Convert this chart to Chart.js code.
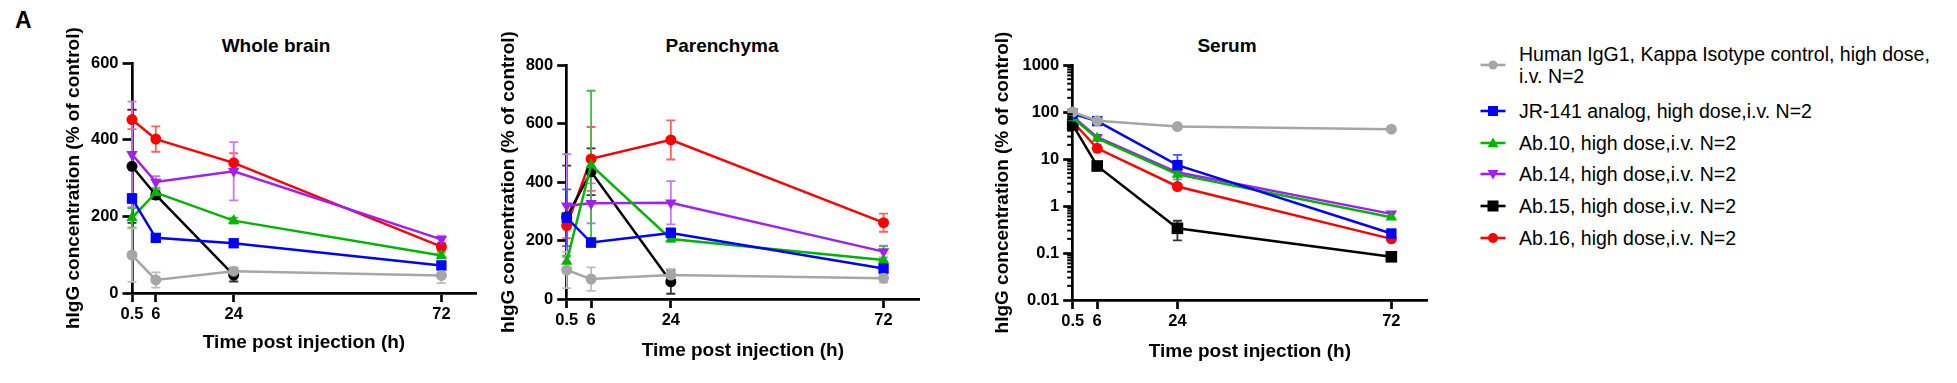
<!DOCTYPE html>
<html>
<head>
<meta charset="utf-8">
<script src="https://cdn.jsdelivr.net/npm/chart.js@4.4.1/dist/chart.umd.min.js"></script>
<style>
  html, body { margin:0; padding:0; background:#fff; }
  body { width:1957px; height:383px; position:relative; overflow:hidden; font-family:'Liberation Sans', Arial, sans-serif; }
  canvas { position:absolute; top:0; }
  .ptitle { position:absolute; font-weight:bold; font-size:19px; line-height:22px; transform:translateX(-50%); white-space:nowrap; color:#000; }
  #panelA { position:absolute; left:15px; top:9px; font-weight:bold; font-size:23px; line-height:23px; }
  .leg { position:absolute; left:1478px; font-size:19.5px; line-height:22px; color:#000; }
  .leg svg { position:absolute; left:0; }
  .leg .txt { position:absolute; left:41px; width:430px; }
</style>
</head>
<body>
<div id="panelA">A</div>
<div class="ptitle" style="left:276px; top:35px;">Whole brain</div>
<div class="ptitle" style="left:722px; top:35px;">Parenchyma</div>
<div class="ptitle" style="left:1227px; top:35px;">Serum</div>
<canvas id="c1" width="490" height="383" style="left:0px"></canvas>
<canvas id="c2" width="440" height="383" style="left:490px"></canvas>
<canvas id="c3" width="510" height="383" style="left:930px"></canvas>
<div id="legend"></div>
<script>
// ---------------- DATA ----------------
const times = [0.5, 6, 24, 72];
const xTickLabels = ['0.5', '6', '24', '72'];
const seriesNames = [
  'Human IgG1, Kappa Isotype control, high dose, i.v. N=2',
  'JR-141 analog, high dose,i.v. N=2',
  'Ab.10, high dose,i.v. N=2',
  'Ab.14, high dose,i.v. N=2',
  'Ab.15, high dose,i.v. N=2',
  'Ab.16, high dose,i.v. N=2'
];
const seriesColors = ['#A6A6A6', '#0000FF', '#00B400', '#A020F0', '#000000', '#FF0000'];
const errorColors  = ['#BDBDBD', '#5050FF', '#40C040', '#C878F0', '#333333', '#FF6060'];

// Whole brain (% of control)
const brainIsotype = [99, 34, 57, 46];
const brainJR141   = [247, 144, 130, 72];
const brainAb10    = [196, 262, 189, 98];
const brainAb14    = [362, 290, 318, 140];
const brainAb15    = [331, 256, 47, null];
const brainAb16    = [453, 402, 340, 121];
const brainIsotypeSD = [70, 20, 10, 20];
const brainJR141SD   = [12, 8, 8, 10];
const brainAb10SD    = [25, 10, 8, 8];
const brainAb14SD    = [138, 15, 76, 10];
const brainAb15SD    = [148, 10, 17, null];
const brainAb16SD    = [25, 33, 25, 10];
const brainTicks = [0, 200, 400, 600];

// Parenchyma (% of control)
const parIsotype = [99, 68, 82, 71];
const parJR141   = [278, 193, 226, 104];
const parAb10    = [128, 458, 205, 133];
const parAb14    = [319, 327, 329, 162];
const parAb15    = [281, 435, 59, null];
const parAb16    = [251, 479, 544, 261];
const parIsotypeSD = [62, 40, 20, 15];
const parJR141SD   = [97, 15, 15, 15];
const parAb10SD    = [20, 254, 10, 48];
const parAb14SD    = [176, 68, 74, 20];
const parAb15SD    = [175, 80, 41, null];
const parAb16SD    = [43, 109, 67, 31];
const parTicks = [0, 200, 400, 600, 800];

// Serum (% of control, log scale)
const serIsotype = [100, 65, 49, 43];
const serJR141   = [92, 64, 7.4, 0.26];
const serAb10    = [75, 27.5, 4.7, 0.575];
const serAb14    = [80, 29, 5.2, 0.68];
const serAb15    = [53, 7.1, 0.335, 0.083];
const serAb16    = [62, 16.9, 2.6, 0.2];
const serIsotypeSD = [null, null, null, null];
const serJR141SD   = [null, null, 4.8, null];
const serAb10SD    = [null, null, 1.0, null];
const serAb14SD    = [null, null, null, null];
const serAb15SD    = [null, null, 0.15, null];
const serAb16SD    = [null, null, null, null];
const serTicks = [0.01, 0.1, 1, 10, 100, 1000];
const serTickLabels = ['0.01', '0.1', '1', '10', '100', '1000'];

// ---------------- STYLE ----------------
Chart.defaults.font.family = "'Liberation Sans', Arial, sans-serif";
Chart.defaults.color = '#000';
const AXW = 2.7;
const tickFont = { size: 16.5, weight: 'bold' };
const titleFont = { size: 19, weight: 'bold' };

function markerStyle(i, panel) {
  if (i === 0) return ['circle', 5.5, 0];
  if (i === 1) return ['rect', 7.3, 0];
  if (i === 2) return ['triangle', 6.6, 0];
  if (i === 3) return ['triangle', 6.6, 180];
  if (i === 4) return panel === 3 ? ['rect', 8.2, 0] : ['circle', 5.5, 0];
  return ['circle', 5.5, 0];
}

function buildDatasets(vals, sds, panel) {
  return vals.map((arr, i) => {
    const [ps, r, rot] = markerStyle(i, panel);
    return {
      label: seriesNames[i],
      data: times.map((t, k) => ({ x: t, y: arr[k] })),
      errors: sds[i],
      errColor: errorColors[i],
      borderColor: seriesColors[i],
      backgroundColor: seriesColors[i],
      pointBackgroundColor: seriesColors[i],
      pointBorderColor: seriesColors[i],
      pointBorderWidth: 0,
      pointStyle: ps,
      pointRadius: r,
      pointRotation: rot,
      borderWidth: 2.5,
      tension: 0,
      spanGaps: false,
      clip: false
    };
  });
}

const errorBarPlugin = {
  id: 'errbars',
  beforeDatasetsDraw(chart) {
    const ctx = chart.ctx;
    const xs = chart.scales.x, ys = chart.scales.y;
    ctx.save();
    for (let i = chart.data.datasets.length - 1; i >= 0; i--) {
      const ds = chart.data.datasets[i];
      if (!ds.errors) continue;
      ctx.strokeStyle = ds.errColor;
      ctx.lineWidth = 1.8;
      ds.data.forEach((p, k) => {
        const e = ds.errors[k];
        if (p.y == null || e == null) return;
        const x = xs.getPixelForValue(p.x);
        const lo = Math.max(p.y - e, ys.min);
        const yTop = ys.getPixelForValue(p.y + e);
        const yBot = ys.getPixelForValue(lo);
        ctx.beginPath();
        ctx.moveTo(x, yTop); ctx.lineTo(x, yBot);
        ctx.moveTo(x - 4.5, yTop); ctx.lineTo(x + 4.5, yTop);
        if (p.y - e > ys.min) { ctx.moveTo(x - 4.5, yBot); ctx.lineTo(x + 4.5, yBot); }
        ctx.stroke();
      });
    }
    ctx.restore();
  }
};

const minorTickPlugin = {
  id: 'minorticks',
  afterDraw(chart) {
    const ys = chart.scales.y;
    if (ys.type !== 'logarithmic') return;
    const ctx = chart.ctx;
    const x0 = chart.chartArea.left;
    ctx.save();
    ctx.strokeStyle = '#000';
    ctx.lineWidth = 2;
    for (let d = -2; d <= 2; d++) {
      for (let k = 2; k <= 9; k++) {
        const y = ys.getPixelForValue(k * Math.pow(10, d));
        ctx.beginPath();
        ctx.moveTo(x0 - 5.5, y); ctx.lineTo(x0, y);
        ctx.stroke();
      }
    }
    ctx.restore();
  }
};

function makeChart(id, opts) {
  const yScale = {
    type: opts.log ? 'logarithmic' : 'linear',
    min: opts.yMin, max: opts.yMax,
    afterBuildTicks: s => { s.ticks = opts.yTicks.map(v => ({ value: v })); },
    afterFit: s => { s.width = opts.yWidth; },
    ticks: {
      font: tickFont, color: '#000', padding: 4,
      callback: (v, idx) => opts.yLabels ? opts.yLabels[idx] : String(opts.yTicks[idx])
    },
    grid: { drawOnChartArea: false, drawTicks: true, tickLength: 9.5, tickWidth: AXW, tickColor: '#000' },
    border: { display: true, color: '#000', width: AXW },
    title: { display: true, text: 'hIgG concentration (% of control)', font: titleFont, color: '#000',
             padding: { top: opts.yTitlePad, bottom: 0 } }
  };
  const xScale = {
    type: 'linear', min: 0.5, max: 80,
    afterBuildTicks: s => { s.ticks = times.map(v => ({ value: v })); },
    afterFit: s => { s.height = opts.xHeight; },
    ticks: { font: tickFont, color: '#000', padding: 3, maxRotation: 0, autoSkip: false,
             callback: (v, idx) => xTickLabels[idx] },
    grid: { drawOnChartArea: false, drawTicks: true, tickLength: 9, tickWidth: AXW, tickColor: '#000' },
    border: { display: true, color: '#000', width: AXW },
    title: { display: true, text: 'Time post injection (h)', font: titleFont, color: '#000',
             padding: { top: 0, bottom: opts.xTitlePad } }
  };
  return new Chart(document.getElementById(id), {
    type: 'line',
    data: { datasets: buildDatasets(opts.vals, opts.sds, opts.panel) },
    options: {
      responsive: false, animation: false, devicePixelRatio: 1,
      layout: { padding: { top: opts.padTop, right: opts.padRight, bottom: 0, left: 0 } },
      plugins: { legend: { display: false }, title: { display: false }, tooltip: { enabled: false } },
      scales: { x: xScale, y: yScale }
    },
    plugins: [errorBarPlugin, minorTickPlugin]
  });
}

makeChart('c1', {
  panel: 1,
  vals: [brainIsotype, brainJR141, brainAb10, brainAb14, brainAb15, brainAb16],
  sds: [brainIsotypeSD, brainJR141SD, brainAb10SD, brainAb14SD, brainAb15SD, brainAb16SD],
  yMin: 0, yMax: 600, yTicks: brainTicks,
  yWidth: 132, padTop: 63.3, padRight: 14, xHeight: 90,
  yTitlePad: 62.6, xTitlePad: 28.6
});
makeChart('c2', {
  panel: 2,
  vals: [parIsotype, parJR141, parAb10, parAb14, parAb15, parAb16],
  sds: [parIsotypeSD, parJR141SD, parAb10SD, parAb14SD, parAb15SD, parAb16SD],
  yMin: 0, yMax: 800, yTicks: parTicks,
  yWidth: 76.7, padTop: 65, padRight: 11, xHeight: 84,
  yTitlePad: 7.6, xTitlePad: 20.9
});
makeChart('c3', {
  panel: 3, log: true,
  vals: [serIsotype, serJR141, serAb10, serAb14, serAb15, serAb16],
  sds: [serIsotypeSD, serJR141SD, serAb10SD, serAb14SD, serAb15SD, serAb16SD],
  yMin: 0.01, yMax: 1000, yTicks: serTicks, yLabels: serTickLabels,
  yWidth: 142.7, padTop: 65, padRight: 13, xHeight: 83,
  yTitlePad: 61.3, xTitlePad: 19.9
});

// ---------------- LEGEND (HTML) ----------------
const legendCenters = [65, 111, 143, 174, 205.7, 237.7];
const legendMarkers = [['circle', 4.5], ['rect', 5], ['triangle', 5.5], ['triangleDown', 5.5], ['rect', 5.5], ['circle', 5]];
const legendEl = document.getElementById('legend');
seriesNames.forEach((name, i) => {
  const c = seriesColors[i];
  const cy = legendCenters[i];
  const item = document.createElement('div');
  item.className = 'leg';
  item.style.top = (cy - 12) + 'px';
  const [m, r] = legendMarkers[i];
  let shape = '';
  if (m === 'circle') shape = `<circle cx="15" cy="12" r="${r}" fill="${c}"/>`;
  else if (m === 'rect') shape = `<rect x="${15 - r}" y="${12 - r}" width="${2 * r}" height="${2 * r}" fill="${c}"/>`;
  else if (m === 'triangle') shape = `<polygon points="15,${12 - r} ${15 + r},${12 + r * 0.75} ${15 - r},${12 + r * 0.75}" fill="${c}"/>`;
  else shape = `<polygon points="15,${12 + r} ${15 + r},${12 - r * 0.75} ${15 - r},${12 - r * 0.75}" fill="${c}"/>`;
  item.innerHTML = `<svg width="30" height="24" style="top:0"><line x1="2.5" y1="12" x2="27.5" y2="12" stroke="${c}" stroke-width="2.6"/>${shape}</svg>`;
  const txt = document.createElement('div');
  txt.className = 'txt';
  txt.textContent = name;
  txt.style.top = (i === 0 ? -10 : 1) + 'px';
  item.appendChild(txt);
  legendEl.appendChild(item);
});
</script>
</body>
</html>
